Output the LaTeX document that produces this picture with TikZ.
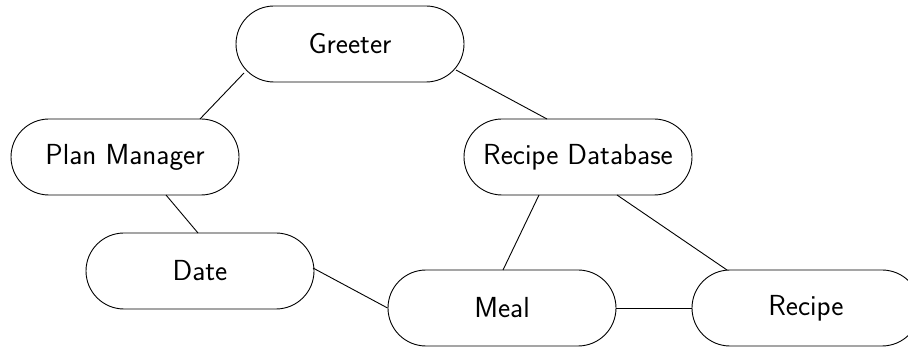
\documentclass[tikz,border=0pt]{standalone}
\usetikzlibrary{calc}
\begin{document}
\begin{tikzpicture}[x=1pt,y=-1pt,
  classbox/.style={draw, line width=0.9pt, rounded corners=38pt,
    minimum width=228pt, minimum height=76pt, inner sep=0pt,
    font=\sffamily\fontsize{29}{33}\selectfont},
  link/.style={line width=0.9pt}]
  \useasboundingbox (0,0) rectangle (908,347);
  \node[classbox] (greeter) at (350,44)  {Greeter};
  \node[classbox] (plan)    at (125,157) {Plan Manager};
  \node[classbox] (recdb)   at (578,157) {Recipe Database};
  \node[classbox] (date)    at (200,271) {Date};
  \node[classbox] (meal)    at (502,308) {Meal};
  \node[classbox] (recipe)  at (806,308) {Recipe};

  \draw[link] ([shift={(-106,29)}]greeter.center) -- ([shift={(75,-38)}]plan.center);
  \draw[link] ([shift={(106,26)}]greeter.center)  -- ([shift={(-31,-38)}]recdb.center);
  \draw[link] ([shift={(41,38)}]plan.center)      -- ([shift={(-2,-38)}]date.center);
  \draw[link] ([shift={(113,-3)}]date.center)     -- (meal.west);
  \draw[link] (meal.east) -- (recipe.west);
  \draw[link] ([shift={(-39,38)}]recdb.center)    -- ([shift={(1,-38)}]meal.center);
  \draw[link] ([shift={(39,38)}]recdb.center)     -- ([shift={(-79,-38)}]recipe.center);
\end{tikzpicture}
\end{document}
